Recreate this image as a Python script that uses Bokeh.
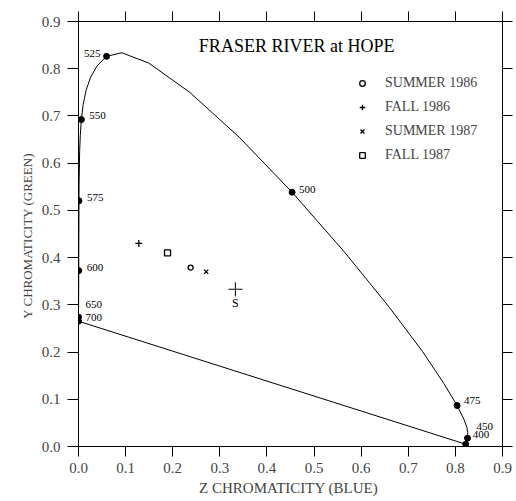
from bokeh.plotting import figure
from bokeh.models import (Range1d, FixedTicker, PrintfTickFormatter, LinearAxis,
                          Label, ColumnDataSource, CustomLabelingPolicy)
from bokeh.core.properties import value
from bokeh.embed import file_html
from bokeh.resources import INLINE

# ---- data ----
locus_nm = [400, 420, 440, 450, 460, 465, 470, 475, 480, 485, 490, 495, 500, 505,
            510, 515, 520, 525, 530, 535, 540, 545, 550, 555, 560, 570, 575, 580,
            590, 600, 620, 650, 700]
locus_z = [0.8219, 0.8235, 0.8247, 0.8257, 0.8263, 0.8246, 0.8181, 0.8036, 0.7760,
           0.7306, 0.6596, 0.5638, 0.4534, 0.3413, 0.2359, 0.1491, 0.0919, 0.0596,
           0.0394, 0.0255, 0.0161, 0.0099, 0.0061, 0.0038, 0.0024, 0.0012, 0.0010,
           0.0009, 0.0006, 0.0005, 0.0002, 0.0000, 0.0000]
locus_y = [0.0048, 0.0051, 0.0109, 0.0177, 0.0297, 0.0399, 0.0578, 0.0868, 0.1327,
           0.2007, 0.2950, 0.4127, 0.5384, 0.6548, 0.7502, 0.8120, 0.8338, 0.8262,
           0.8059, 0.7816, 0.7543, 0.7243, 0.6923, 0.6589, 0.6245, 0.5547, 0.5202,
           0.4866, 0.4242, 0.3725, 0.3083, 0.2740, 0.2653]
marked_nm = [400, 450, 475, 500, 525, 550, 575, 600, 650, 700]

seasons = ["SUMMER 1986", "FALL 1986", "SUMMER 1987", "FALL 1987"]
sample_z = [0.238, 0.128, 0.271, 0.189]
sample_y = [0.379, 0.430, 0.370, 0.410]

white_z = [0.333]
white_y = [0.333]
white_label = ["S"]

ticks = [0.0, 0.1, 0.2, 0.3, 0.4, 0.5, 0.6, 0.7, 0.8, 0.9]

# label offsets (style) per marked wavelength
label_dx = {400: 7, 450: 9, 475: 7, 500: 7, 525: -6, 550: 8, 575: 8, 600: 8, 650: 7, 700: 7}
label_dy = {400: -10, 450: -12, 475: -5, 500: -3, 525: -3, 550: -4, 575: -3, 600: -3, 650: -13, 700: -4}

FONT = "Liberation Serif"

p = figure(width=516, height=501, x_range=Range1d(0, 0.9), y_range=Range1d(0, 0.9),
           output_backend="svg", toolbar_location=None,
           min_border_left=78, min_border_right=10, min_border_top=21, min_border_bottom=55)
p.grid.visible = False
p.outline_line_color = "black"
p.background_fill_color = "white"

ticker = FixedTicker(ticks=ticks)
for ax in (p.xaxis[0], p.yaxis[0]):
    ax.ticker = ticker
    ax.formatter = PrintfTickFormatter(format="%.1f")
    ax.minor_tick_line_color = None
    ax.major_tick_in = 0
    ax.major_label_text_font = FONT
    ax.major_label_text_font_size = "15px"
    ax.axis_label_text_font = FONT
    ax.axis_label_text_font_style = "normal"
    ax.axis_line_color = "black"
    ax.major_tick_line_color = "black"
p.xaxis.major_tick_out = 10
p.yaxis.major_tick_out = 11
p.xaxis.axis_label = "Z CHROMATICITY  (BLUE)"
p.xaxis.axis_label_text_font_size = "15px"
p.xaxis.major_label_standoff = 6
p.xaxis.axis_label_standoff = 4
p.yaxis.axis_label = "Y CHROMATICITY  (GREEN)"
p.yaxis.axis_label_text_font_size = "13px"
p.yaxis.major_label_standoff = 7
p.yaxis.axis_label_standoff = 4

for loc in ("above", "right"):
    ax = LinearAxis(ticker=FixedTicker(ticks=ticks), major_label_text_font_size="1px",
                    major_label_standoff=0, minor_tick_line_color=None,
                    major_tick_in=0, major_tick_out=10,
                    major_label_policy=CustomLabelingPolicy(
                        code="for (const i of Array.from(indices)) indices.unset(i)"))
    p.add_layout(ax, loc)

# spectral locus
p.line(locus_z, locus_y, line_color="black", line_width=1)
# purple line
p.line([locus_z[0], locus_z[-1]], [locus_y[0], locus_y[-1]], line_color="black", line_width=1)

mz = [locus_z[locus_nm.index(n)] for n in marked_nm]
my = [locus_y[locus_nm.index(n)] for n in marked_nm]
p.scatter(mz, my, marker="circle", size=6, fill_color="black", line_color="black")

src = ColumnDataSource(dict(x=mz, y=my, t=[str(n) for n in marked_nm],
                            dx=[label_dx[n] for n in marked_nm],
                            dy=[label_dy[n] for n in marked_nm],
                            al=["right" if label_dx[n] < 0 else "left" for n in marked_nm]))
p.text(x="x", y="y", text="t", x_offset="dx", y_offset="dy", text_align="al",
       text_baseline="middle", text_font=value(FONT), text_font_size="11px",
       text_color="black", source=src)

# samples
markers = ["circle", "cross", "x", "square"]
sizes = [5, 7, 6, 6]
for i, s in enumerate(seasons):
    p.scatter([sample_z[i]], [sample_y[i]], marker=markers[i], size=sizes[i],
              fill_color=None, line_color="black", line_width=1.3, legend_label=s)

# white point
p.scatter(white_z, white_y, marker="cross", size=14, line_color="black", line_width=1)
p.text(white_z, white_y, text=white_label, y_offset=14, text_align="center",
       text_baseline="middle", text_font=value(FONT), text_font_size="12px", text_color="black")

p.add_layout(Label(x=0.463, y=0.848, text="FRASER RIVER at HOPE", text_align="center",
                   text_baseline="middle", text_font=FONT, text_font_size="18px",
                   text_color="black"))

lg = p.legend[0]
lg.location = (277, 279)
lg.border_line_color = None
lg.background_fill_alpha = 0
lg.padding = 0
lg.margin = 0
lg.spacing = 0
lg.glyph_width = 14
lg.glyph_height = 24
lg.label_height = 24
lg.label_standoff = 16
lg.label_text_font = FONT
lg.label_text_font_size = "14px"

open("out.html", "w").write(file_html(p, INLINE))
